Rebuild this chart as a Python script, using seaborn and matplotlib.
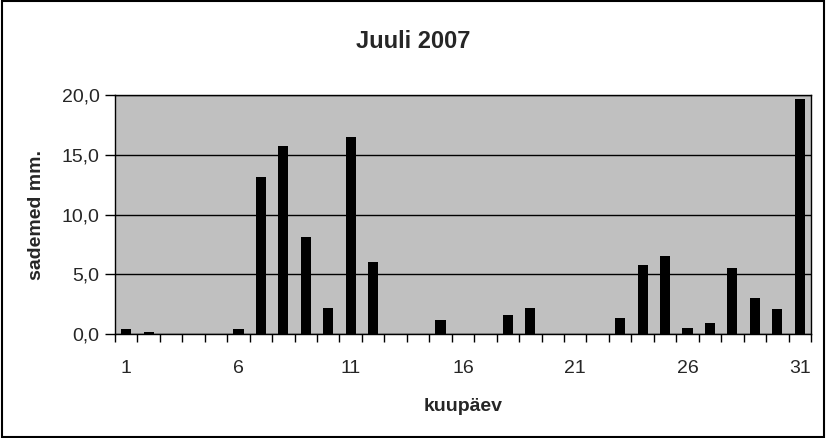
import numpy as np
import pandas as pd
import matplotlib
matplotlib.use("Agg")
import matplotlib.pyplot as plt
import seaborn as sns
from matplotlib.patches import Rectangle

# Daily precipitation, July 2007
days = list(range(1, 32))
rain = [0.4, 0.2, 0, 0, 0, 0.4, 13.1, 15.7, 8.1, 2.2,
        16.5, 6.0, 0, 0, 1.2, 0, 0, 1.6, 2.2, 0,
        0, 0, 1.3, 5.8, 6.5, 0.5, 0.9, 5.5, 3.0, 2.1,
        19.7]
tick_days = [1, 6, 11, 16, 21, 26, 31]

data = pd.DataFrame({"day": days, "rain": rain})

sns.set_style("white")
plt.rcParams['font.family'] = ['Liberation Sans', 'DejaVu Sans']

fig = plt.figure(figsize=(8.26, 4.38), dpi=100)
ax = fig.add_axes([0.1392, 0.2374, 0.8426, 0.5457])

sns.barplot(x="day", y="rain", data=data, order=days, color="black",
            width=0.45, saturation=1, linewidth=0, ax=ax, zorder=3)

ax.set_facecolor("#C0C0C0")
ax.set_xlim(-0.5, len(days) - 0.5)
ax.set_ylim(0, 20)
ax.set_yticks([0, 5, 10, 15, 20])
ax.set_yticklabels(["0,0", "5,0", "10,0", "15,0", "20,0"])
ax.yaxis.grid(True, color="black", linewidth=1, zorder=1)
ax.set_axisbelow(True)

# labels at centers, tick marks between categories
ax.set_xticks([days.index(d) for d in tick_days])
ax.set_xticklabels([str(d) for d in tick_days])
ax.set_xticks(np.arange(-0.5, len(days), 1), minor=True)
ax.tick_params(axis="x", which="major", length=0, pad=19, labelsize=14)
ax.tick_params(axis="x", which="minor", length=6, width=1, color="black",
               direction="out", bottom=True)
ax.tick_params(axis="y", length=7, width=1, color="black", direction="out",
               left=True, labelsize=14, pad=4)

for s in ax.spines.values():
    s.set_color("black")
    s.set_linewidth(1)

ax.set_xlabel("kuupäev", fontsize=14, fontweight="bold", labelpad=15)
ax.set_ylabel("sademed mm.", fontsize=14, fontweight="bold", labelpad=12)
fig.text(0.5, 0.905, "Juuli 2007", ha="center", va="center",
         fontsize=17, fontweight="bold")

fig.patches.append(Rectangle((0.002, 0.003), 0.996, 0.994, transform=fig.transFigure,
                             fill=False, edgecolor="black", linewidth=1.5))

fig.savefig("out.png", dpi=100)
